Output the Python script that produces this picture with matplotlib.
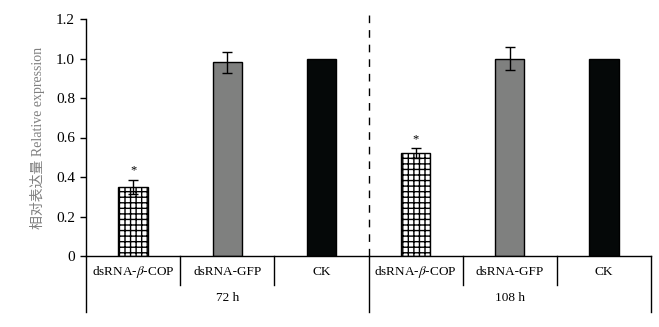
import matplotlib
matplotlib.use('Agg')
import matplotlib.pyplot as plt

plt.rcParams['font.family'] = ['Liberation Serif', 'Noto Sans CJK SC']
plt.rcParams['mathtext.fontset'] = 'stix'
plt.rcParams['hatch.linewidth'] = 1.0

groups = ['72 h', '108 h']
categories = ['dsRNA-$\\it{\\beta}$-COP', 'dsRNA-GFP', 'CK']
values = [0.35, 0.98, 1.0, 0.52, 1.0, 1.0]
errors = [0.037, 0.055, 0, 0.025, 0.058, 0]
stars = ['*', '', '', '*', '', '']

fig = plt.figure(figsize=(6.59, 3.27), dpi=100)
ax = fig.add_axes([86 / 659, 1 - 256 / 327, 565 / 659, 237 / 327])

xs = [i + 0.5 for i in range(6)]
fills = ['white', '#7f807f', '#050808'] * 2
hatches = ['+++', None, None] * 2
for x, v, e, c, h in zip(xs, values, errors, fills, hatches):
    ax.bar(x, v, width=0.31, color=c, edgecolor='black', linewidth=1.0, hatch=h, zorder=2)
    if e > 0:
        ax.errorbar(x, v, yerr=e, fmt='none', ecolor='black', elinewidth=1.0,
                    capsize=3.8, capthick=1.0, zorder=3)
for x, v, e, s in zip(xs, values, errors, stars):
    if s:
        ax.text(x, v + e + 0.015, s, ha='center', va='bottom', fontsize=9)

ax.set_xlim(0, 6)
ax.set_ylim(0, 1.2)
ax.set_yticks([0, 0.2, 0.4, 0.6, 0.8, 1.0, 1.2])
ax.set_yticklabels(['0', '0.2', '0.4', '0.6', '0.8', '1.0', '1.2'], fontsize=11)
ax.tick_params(axis='y', direction='out', length=4, width=1, pad=4)
ax.set_xticks([])
for s in ['top', 'right']:
    ax.spines[s].set_visible(False)
ax.spines['left'].set_linewidth(1)
ax.spines['bottom'].set_linewidth(1)

ax.set_ylabel('相对表达量 Relative expression', color='#808080', fontsize=10, labelpad=8)

# dashed separator between time points
ax.plot([3, 3], [0, 1.245], ls=(0, (5.5, 5)), color='black', lw=1, clip_on=False)

# table-like x labels
tr = ax.get_xaxis_transform()
for x in [0, 3, 6]:
    ax.plot([x, x], [0, -0.236], color='black', lw=1, clip_on=False, transform=tr)
for x in [1, 2, 4, 5]:
    ax.plot([x, x], [0, -0.122], color='black', lw=1, clip_on=False, transform=tr)
for i, x in enumerate(xs):
    ax.text(x, -0.068, categories[i % 3], transform=tr, ha='center', va='center', fontsize=9.5)
for g, x in zip(groups, [1.5, 4.5]):
    ax.text(x, -0.177, g, transform=tr, ha='center', va='center', fontsize=9.5)

fig.savefig('out.png', dpi=100)
